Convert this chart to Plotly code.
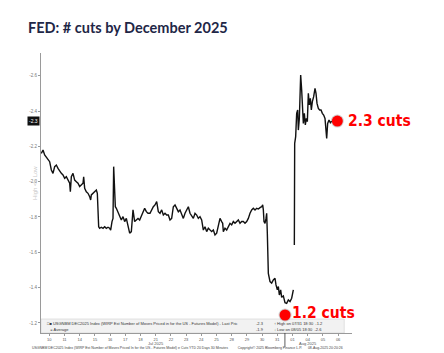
import plotly.graph_objects as go

# trading-day index (0 = Jul 10, 2025) and number of moves priced (negative = cuts)
day_index = [
    -0.524, -0.414, -0.305, -0.086, 0.024, 0.134, 0.243, 0.353, 0.463, 0.572,
    0.682, 0.792, 0.901, 1.011, 1.121, 1.230, 1.340, 1.384, 1.450, 1.559,
    1.669, 1.779, 1.888, 1.998, 2.107, 2.217, 2.261, 2.327, 2.436, 2.546,
    2.656, 2.721, 2.765, 2.875, 2.985, 3.094, 3.160, 3.204, 3.248, 3.314,
    3.423, 3.533, 3.643, 3.752, 3.862, 3.971, 4.037, 4.125, 4.191, 4.235,
    4.279, 4.344, 4.410, 4.520, 4.629, 4.739, 4.849, 4.958, 5.068, 5.178,
    5.287, 5.397, 5.463, 5.507, 5.616, 5.726, 5.836, 5.945, 6.055, 6.164,
    6.274, 6.384, 6.493, 6.625, 6.735, 6.844, 6.954, 7.064, 7.173, 7.283,
    7.393, 7.502, 7.612, 7.721, 7.831, 7.941, 8.050, 8.160, 8.270, 8.379,
    8.489, 8.599, 8.708, 8.818, 8.928, 9.037, 9.147, 9.257, 9.366, 9.476,
    9.586, 9.695, 9.805, 9.914, 10.024, 10.134, 10.243, 10.353, 10.463, 10.572,
    10.682, 10.792, 10.901, 11.011, 11.121, 11.230, 11.340, 11.406, 11.450, 11.559,
    11.669, 11.779, 11.888, 11.998, 12.107, 12.217, 12.327, 12.436, 12.546, 12.656,
    12.765, 12.875, 12.985, 13.094, 13.204, 13.314, 13.423, 13.533, 13.643, 13.752,
    13.862, 13.971, 14.037, 14.081, 14.125, 14.191, 14.257, 14.300, 14.344, 14.410,
    14.520, 14.629, 14.739, 14.849, 14.914, 15.002, 15.068, 15.134, 15.221, 15.287,
    15.397, 15.507, 15.616, 15.726, 15.836, 15.945, 16.055, 16.090, 16.121, 16.143,
    16.208, 16.274, 16.340, 16.384, 16.450, 16.493, 16.537, 16.603, 16.669, 16.713,
    16.779, 16.844, 16.910, 16.976, 17.042, 17.107, 17.173, 17.239, 17.305, 17.392,
    17.480, 17.546, 17.612, 17.700, 17.787, 17.875, 17.963, 18.050, 18.138, 18.204,
    18.248, 18.313, 18.401, 18.489, 18.577,
]
moves_priced = [
    -2.160, -2.179, -2.151, -2.123, -2.113, -2.066, -2.047, -2.085, -2.094, -2.075,
    -2.057, -2.047, -2.038, -2.019, -2.028, -2.009, -1.991, -1.943, -2.028, -2.047,
    -2.009, -2.000, -1.991, -1.972, -1.981, -1.991, -2.028, -1.962, -1.943, -1.934,
    -1.915, -1.896, -1.925, -1.934, -1.943, -1.953, -1.934, -1.830, -1.745, -1.736,
    -1.742, -1.736, -1.745, -1.736, -1.742, -1.736, -1.726, -1.774, -1.792, -2.085,
    -1.934, -1.858, -1.849, -1.830, -1.802, -1.783, -1.802, -1.774, -1.792, -1.745,
    -1.708, -1.717, -1.783, -1.840, -1.774, -1.783, -1.792, -1.783, -1.802, -1.830,
    -1.849, -1.830, -1.821, -1.821, -1.840, -1.858, -1.868, -1.887, -1.830, -1.821,
    -1.840, -1.811, -1.821, -1.811, -1.811, -1.783, -1.792, -1.858, -1.868, -1.849,
    -1.830, -1.840, -1.811, -1.792, -1.821, -1.840, -1.858, -1.821, -1.802, -1.792,
    -1.821, -1.811, -1.792, -1.802, -1.783, -1.726, -1.745, -1.717, -1.736, -1.726,
    -1.717, -1.726, -1.698, -1.708, -1.755, -1.792, -1.774, -1.764, -1.717, -1.736,
    -1.726, -1.745, -1.764, -1.755, -1.774, -1.764, -1.774, -1.783, -1.764, -1.774,
    -1.774, -1.764, -1.774, -1.792, -1.821, -1.840, -1.849, -1.840, -1.849, -1.845,
    -1.853, -1.858, -1.868, -1.840, -1.774, -1.764, -1.792, -1.821, -1.708, -1.481,
    -1.434, -1.425, -1.443, -1.453, -1.415, -1.387, -1.406, -1.358, -1.387, -1.345,
    -1.353, -1.315, -1.311, -1.330, -1.321, -1.340, -1.387, None, -1.642, -2.217,
    -2.255, -2.387, -2.406, -2.292, -2.358, -2.538, -2.604, -2.519, -2.358, -2.330,
    -2.387, -2.321, -2.358, -2.340, -2.500, -2.434, -2.472, -2.406, -2.453, -2.481,
    -2.528, -2.500, -2.443, -2.415, -2.406, -2.406, -2.387, -2.377, -2.358, -2.302,
    -2.245, -2.330, -2.349, -2.334, -2.343,
]

tick_days = list(range(20))
tick_labels = ["10", "11", "14", "15", "16", "17", "18", "21", "22", "23",
               "24", "25", "28", "29", "30", "31", "01", "04", "05", "06"]
month_days = [7, 17]
month_labels = ["Jul 2025", "Aug 2025"]
y_ticks = [-2.6, -2.4, -2.2, -2.0, -1.8, -1.6, -1.4, -1.2]

callout_x = [18.95, 15.51]
callout_y = [-2.343, -1.245]
callout_text = ["2.3 cuts", "1.2 cuts"]

fig = go.Figure()
fig.add_trace(go.Scatter(
    x=day_index, y=moves_priced, mode="lines",
    line=dict(color="#111111", width=1.4), connectgaps=False,
    hoverinfo="skip", showlegend=False))
# soft shadow behind the red dots
fig.add_trace(go.Scatter(
    x=callout_x, y=callout_y, mode="markers",
    marker=dict(color="rgba(0,0,0,0.18)", size=13, line=dict(width=0)),
    showlegend=False, hoverinfo="skip"))
fig.add_trace(go.Scatter(
    x=callout_x, y=callout_y, mode="markers",
    marker=dict(color="#ff0000", size=11, line=dict(width=0)),
    showlegend=False, hoverinfo="skip"))

red_font = dict(family="Liberation Sans Narrow, DejaVu Sans Condensed, Arial", size=15.5, color="#ff0000")
annos = []
# callout labels
annos.append(dict(x=callout_x[0], y=callout_y[0], xref="x", yref="y",
                  text="<b>" + callout_text[0] + "</b>", showarrow=False,
                  xanchor="left", yanchor="middle", xshift=9, yshift=0, font=red_font))
annos.append(dict(x=callout_x[1], y=callout_y[1], xref="x", yref="y",
                  text="<b>" + callout_text[1] + "</b>", showarrow=False,
                  xanchor="left", yanchor="middle", xshift=5, yshift=2, font=red_font))
# month labels
for d, m in zip(month_days, month_labels):
    annos.append(dict(x=d, y=-0.038, xref="x", yref="paper", text=m, showarrow=False,
                      xanchor="center", yanchor="middle",
                      font=dict(family="Liberation Sans", size=4, color="#555555")))
# last value badge
annos.append(dict(x=0, y=moves_priced[-1], xref="paper", yref="y", text="-2.3",
                  showarrow=False, xanchor="right", yanchor="middle", xshift=-1,
                  bgcolor="#111111", borderpad=1,
                  font=dict(family="Liberation Sans", size=5, color="#ffffff")))
# axis note
annos.append(dict(x=-0.019, y=0.536, xref="paper", yref="paper", text="High <> Low",
                  showarrow=False, textangle=-90, xanchor="center", yanchor="middle",
                  font=dict(family="Liberation Sans", size=6, color="#c8c8c8")))
# legend box text
leg_font = dict(family="Liberation Sans", size=4, color="#333333")
annos.append(dict(x=0.012, y=0.0346, xref="paper", yref="paper",
                  text="□■ USGNBM DEC2025 Index (WIRP Est Number of Moves Priced in for the US - Futures Model) - Last Pric",
                  showarrow=False, xanchor="left", yanchor="middle", font=leg_font))
annos.append(dict(x=0.012, y=0.0132, xref="paper", yref="paper", text="   = Average",
                  showarrow=False, xanchor="left", yanchor="middle", font=leg_font))
annos.append(dict(x=0.725, y=0.0346, xref="paper", yref="paper", text="-2.3",
                  showarrow=False, xanchor="right", yanchor="middle", font=leg_font))
annos.append(dict(x=0.725, y=0.0132, xref="paper", yref="paper", text="-1.9",
                  showarrow=False, xanchor="right", yanchor="middle", font=leg_font))
annos.append(dict(x=0.743, y=0.0346, xref="paper", yref="paper", text="↑ High on 07/31 18:30  -1.2",
                  showarrow=False, xanchor="left", yanchor="middle", font=leg_font))
annos.append(dict(x=0.743, y=0.0132, xref="paper", yref="paper", text="↓ Low on 08/05 18:30  -2.6",
                  showarrow=False, xanchor="left", yanchor="middle", font=leg_font))
# footer
annos.append(dict(x=-0.035, y=-0.054, xref="paper", yref="paper",
                  text="USGNBM DEC2025 Index (WIRP Est Number of Moves Priced In for the US - Futures Model) e Cuts YTD 20 Days 30 Minutes"
                       "          Copyright© 2025 Bloomberg Finance L.P.      08-Aug-2025 20:20:26",
                  showarrow=False, xanchor="left", yanchor="middle",
                  font=dict(family="Liberation Sans", size=3.5, color="#444444")))

shapes = [
    dict(type="rect", xref="paper", yref="paper", x0=0, x1=0.975, y0=0.0, y1=0.05,
         fillcolor="#f2f2f2", line=dict(color="#d0d0d0", width=0.6), layer="below"),
    dict(type="line", xref="x", yref="paper", x0=15.5, x1=15.5, y0=0, y1=-0.05,
         line=dict(color="#333333", width=0.8)),
]

fig.update_layout(
    width=444, height=353,
    margin=dict(l=41, r=92, t=53, b=20),
    paper_bgcolor="white", plot_bgcolor="white",
    title=dict(text="<b>FED: # cuts by December 2025</b>", x=28 / 444, xanchor="left",
               y=1 - 28 / 353, yanchor="middle",
               font=dict(family="Lato", size=14.5, color="#1f2747")),
    xaxis=dict(range=[-0.546, 19.914], tickmode="array", tickvals=tick_days, ticktext=tick_labels,
               showgrid=False, zeroline=False, showline=True, linecolor="#9a9a9a", linewidth=1,
               ticks="outside", ticklen=2, tickcolor="#9a9a9a", ticklabelstandoff=0,
               tickfont=dict(family="Liberation Sans", size=4, color="#555555")),
    yaxis=dict(range=[-1.143, -2.7285], tickmode="array", tickvals=y_ticks,
               ticktext=["%.1f" % t for t in y_ticks],
               showgrid=False, zeroline=False, showline=True, linecolor="#9a9a9a", linewidth=1,
               ticks="outside", ticklen=2, tickcolor="#9a9a9a",
               tickfont=dict(family="Liberation Sans", size=4.5, color="#777777")),
    annotations=annos, shapes=shapes, showlegend=False,
)

fig.write_html("out.html")
